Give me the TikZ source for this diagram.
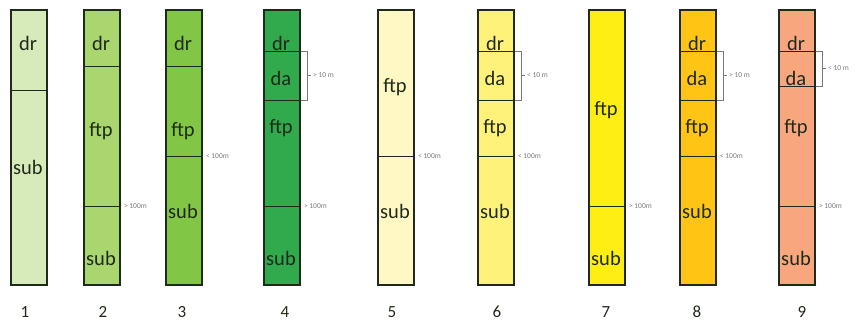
\documentclass[tikz,border=0pt]{standalone}
\usepackage{fontspec}
\setmainfont{Carlito}
\definecolor{edge}{HTML}{1E2A1C}
\definecolor{ink}{HTML}{1F2A1A}
\definecolor{note}{HTML}{7A7A7A}
\definecolor{cA}{HTML}{D6EABA}
\definecolor{cB}{HTML}{A9D66E}
\definecolor{cC}{HTML}{82C646}
\definecolor{cD}{HTML}{30AA4C}
\definecolor{cE}{HTML}{FFF8C4}
\definecolor{cF}{HTML}{FFF27A}
\definecolor{cG}{HTML}{FFEE14}
\definecolor{cH}{HTML}{FFC414}
\definecolor{cI}{HTML}{F8A67E}
\tikzset{
  x=1pt, y=-1pt,
  colbox/.style={draw=edge, line width=1.8pt, minimum width=36pt,
    minimum height=275pt, anchor=north west, inner sep=0pt},
  divider/.style={draw=edge, line width=0.9pt},
  lay/.style={font=\fontsize{20.5}{20.5}\selectfont, text=ink, inner sep=0pt},
  depth/.style={font=\fontsize{7.5}{7.5}\selectfont, text=note, inner sep=0pt, anchor=west},
  brace/.style={draw=note, line width=0.7pt},
  num/.style={font=\fontsize{17}{17}\selectfont, text=ink, inner sep=0pt},
}
% horizontal boundary inside a column, #2 = depth below the top edge
\newcommand\layerline[2]{%
  \draw[divider] ([yshift=-#2pt]#1.north west) -- ([yshift=-#2pt]#1.north east);}
% bracket on the right of a column spanning depths #2..#3, with label #4
\newcommand\spanmark[4]{%
  \draw[brace] ([yshift=-#2pt]#1.north east) -- ++(7,0) -- ++(0,#3-#2) -- ++(-7,0);
  \draw[brace] ([xshift=7pt,yshift=-(#2+#3)/2*1pt]#1.north east) -- ++(3,0)
    node[depth, anchor=west, xshift=2pt] {#4};}
% depth label next to a boundary at depth #2
\newcommand\depthmark[3]{%
  \node[depth] at ([xshift=3pt,yshift=-#2pt]#1.north east) {#3};}
\begin{document}
\begin{tikzpicture}
\useasboundingbox (0,0) rectangle (866,325);

% columns
\node[colbox, fill=cA] (c1) at (10,9) {};
\node[colbox, fill=cB] (c2) at (83,9) {};
\node[colbox, fill=cC] (c3) at (165,9) {};
\node[colbox, fill=cD] (c4) at (263,9) {};
\node[colbox, fill=cE] (c5) at (377,9) {};
\node[colbox, fill=cF] (c6) at (477,9) {};
\node[colbox, fill=cG] (c7) at (588,9) {};
\node[colbox, fill=cH] (c8) at (679,9) {};
\node[colbox, fill=cI] (c9) at (778,9) {};

% column 1
\layerline{c1}{81}
\node[lay] at (28,43) {dr};
\node[lay] at (28,167) {sub};

% column 2
\layerline{c2}{57}
\layerline{c2}{197}
\node[lay] at (101,43) {dr};
\node[lay] at (101,131) {ftp};
\node[lay] at (101,258) {sub};
\depthmark{c2}{197}{> 100m}

% column 3
\layerline{c3}{57}
\layerline{c3}{147}
\node[lay] at (183,43) {dr};
\node[lay] at (183,131) {ftp};
\node[lay] at (183,211) {sub};
\depthmark{c3}{147}{< 100m}

% column 4
\layerline{c4}{42}
\layerline{c4}{91}
\layerline{c4}{197}
\node[lay] at (281,43) {dr};
\node[lay] at (281,78) {da};
\node[lay] at (281,128) {ftp};
\node[lay] at (281,258) {sub};
\spanmark{c4}{42}{91}{> 10 m}
\depthmark{c4}{197}{> 100m}

% column 5
\layerline{c5}{147}
\node[lay] at (395,87) {ftp};
\node[lay] at (395,211) {sub};
\depthmark{c5}{147}{< 100m}

% column 6
\layerline{c6}{42}
\layerline{c6}{91}
\layerline{c6}{147}
\node[lay] at (495,43) {dr};
\node[lay] at (495,78) {da};
\node[lay] at (495,128) {ftp};
\node[lay] at (495,211) {sub};
\spanmark{c6}{42}{91}{< 10 m}
\depthmark{c6}{147}{< 100m}

% column 7
\layerline{c7}{197}
\node[lay] at (606,110) {ftp};
\node[lay] at (606,258) {sub};
\depthmark{c7}{197}{> 100m}

% column 8
\layerline{c8}{42}
\layerline{c8}{91}
\layerline{c8}{147}
\node[lay] at (697,43) {dr};
\node[lay] at (697,78) {da};
\node[lay] at (697,128) {ftp};
\node[lay] at (697,211) {sub};
\spanmark{c8}{42}{91}{> 10 m}
\depthmark{c8}{147}{< 100m}

% column 9
\layerline{c9}{42}
\layerline{c9}{77}
\layerline{c9}{197}
\node[lay] at (796,43) {dr};
\node[lay] at (796,78) {da};
\node[lay] at (796,128) {ftp};
\node[lay] at (796,258) {sub};
\spanmark{c9}{42}{77}{< 10 m}
\depthmark{c9}{197}{> 100m}

% column numbers
\node[num] at (25,312) {1};
\node[num] at (103,312) {2};
\node[num] at (182,312) {3};
\node[num] at (285,312) {4};
\node[num] at (392,312) {5};
\node[num] at (497,312) {6};
\node[num] at (606,312) {7};
\node[num] at (697,312) {8};
\node[num] at (802,312) {9};
\end{tikzpicture}
\end{document}
